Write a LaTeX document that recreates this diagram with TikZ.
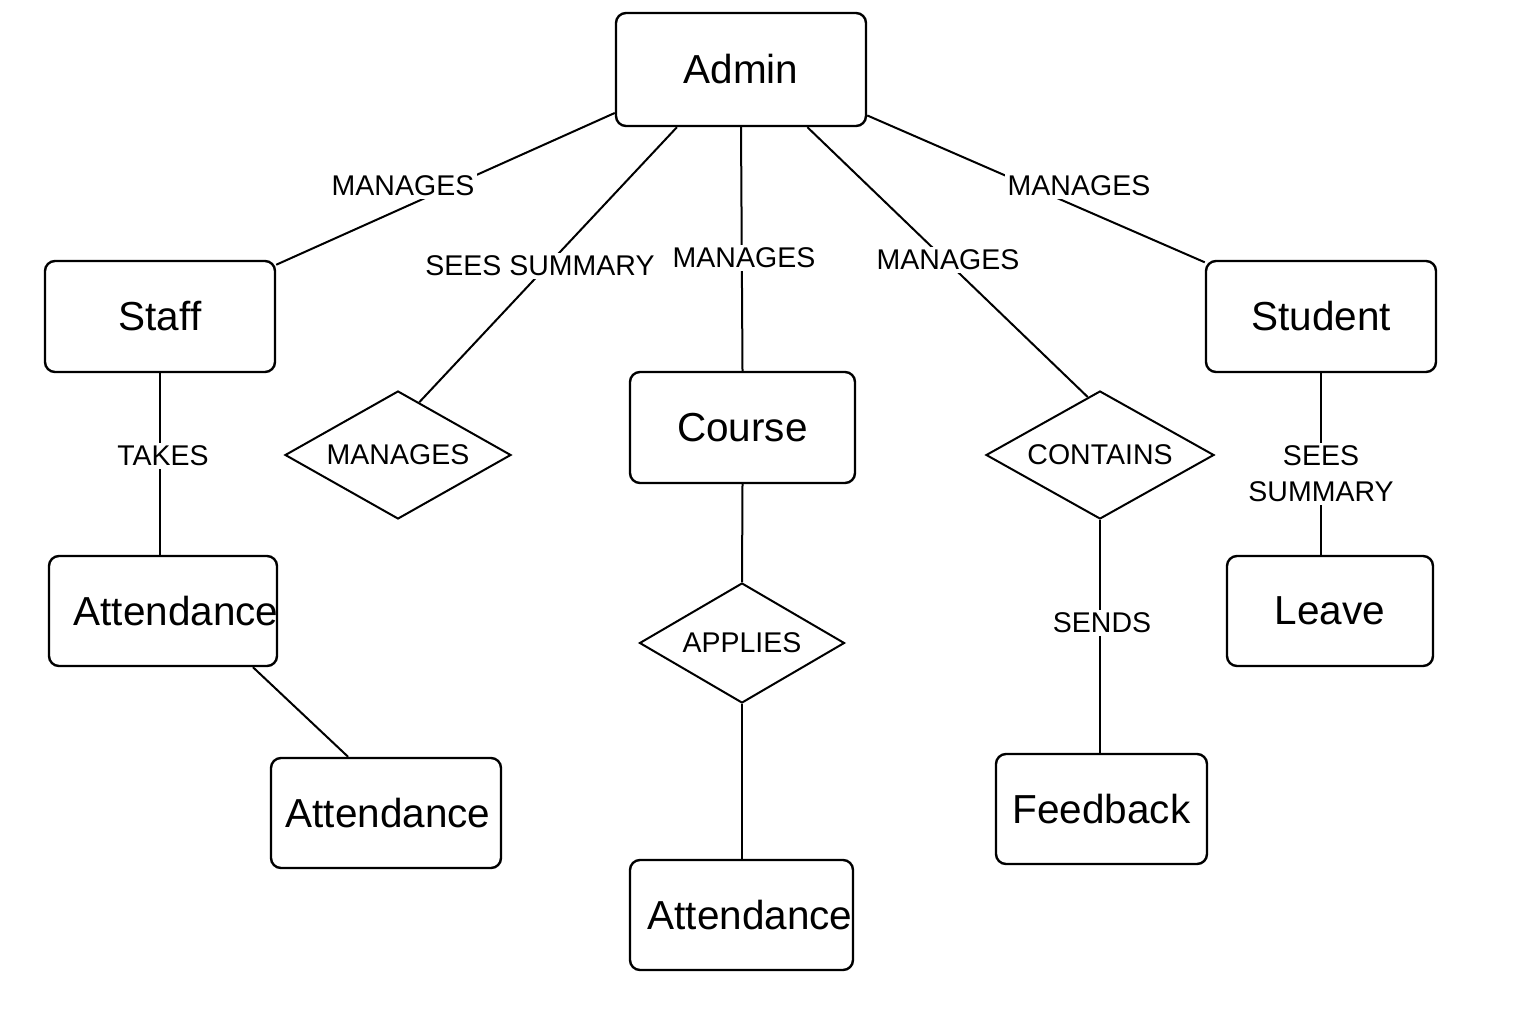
\documentclass[tikz,border=0pt]{standalone}
\usepackage{fontspec}
\setmainfont{Liberation Sans}
\usetikzlibrary{shapes.geometric}
\begin{document}
\begin{tikzpicture}[x=1pt,y=-1pt,
  ent/.style={draw, line width=2.4pt, rounded corners=10pt, inner sep=0pt, font=\fontsize{40.5}{48}\selectfont},
  entx/.style={inner sep=0pt, font=\fontsize{40.5}{48}\selectfont},
  rel/.style={draw, diamond, line width=2pt, inner sep=0pt, font=\fontsize{28.5}{36}\selectfont},
  conn/.style={line width=2pt},
  lbl/.style={fill=white, inner sep=3pt, align=center, font=\fontsize{28.5}{36}\selectfont}]
\useasboundingbox[fill=white] (0,0) rectangle (1536,1024);
% entities
\node[ent, minimum width=250, minimum height=113] (admin) at (741,69.5) {Admin};
\node[ent, minimum width=230, minimum height=111] (staff) at (160,316.5) {Staff};
\node[ent, minimum width=230, minimum height=111] (student) at (1321,316.5) {Student};
\node[ent, minimum width=225, minimum height=111] (course) at (742.5,427.5) {Course};
\node[ent, minimum width=228, minimum height=110] (att1) at (163,611) {};
\node[entx] (att1t) at (176,611) {Attendance};
\node[ent, minimum width=230, minimum height=110] (att2) at (386,813) {};
\node[entx] (att2t) at (388,813) {Attendance};
\node[ent, minimum width=223, minimum height=110] (att3) at (741.5,915) {};
\node[entx] (att3t) at (750,915) {Attendance};
\node[ent, minimum width=211, minimum height=110] (feedback) at (1101.5,809) {Feedback};
\node[ent, minimum width=206, minimum height=110] (leave) at (1330,611) {Leave};
% relationships
\node[rel, aspect=1.77, minimum width=226, minimum height=128] (mdia) at (398,455) {MANAGES};
\node[rel, aspect=1.71, minimum width=205, minimum height=120] (apply) at (742,643) {APPLIES};
\node[rel, aspect=1.78, minimum width=228, minimum height=128] (cont) at (1100,455) {CONTAINS};
% connectors
\draw[conn] (admin.199.6) -- (staff.24);
\draw[conn] (admin.222.8) -- (mdia.68.6);
\draw[conn] (admin.south) -- (course.north);
\draw[conn] (admin.319) -- (cont.102.6);
\draw[conn] (admin.340) -- (student.155.9);
\draw[conn] (staff.south) -- (staff.south |- att1.north);
\draw[conn] (att1.328.6) -- (att2.124.6);
\draw[conn] (course.south) -- (apply.north);
\draw[conn] (apply.south) -- (apply.south |- att3.north);
\draw[conn] (cont.south) -- (cont.south |- feedback.north);
\draw[conn] (student.south) -- (student.south |- leave.north);
% labels
\node[lbl] (l1) at (403,186) {MANAGES};
\node[lbl] (l2) at (540,266) {SEES SUMMARY};
\node[lbl] (l3) at (744,258) {MANAGES};
\node[lbl] (l4) at (948,260) {MANAGES};
\node[lbl] (l5) at (1079,186) {MANAGES};
\node[lbl] (l6) at (163,456) {TAKES};
\node[lbl] (l7) at (1102,623) {SENDS};
\node[lbl] (l8) at (1321,474) {SEES\\SUMMARY};
\end{tikzpicture}
\end{document}
